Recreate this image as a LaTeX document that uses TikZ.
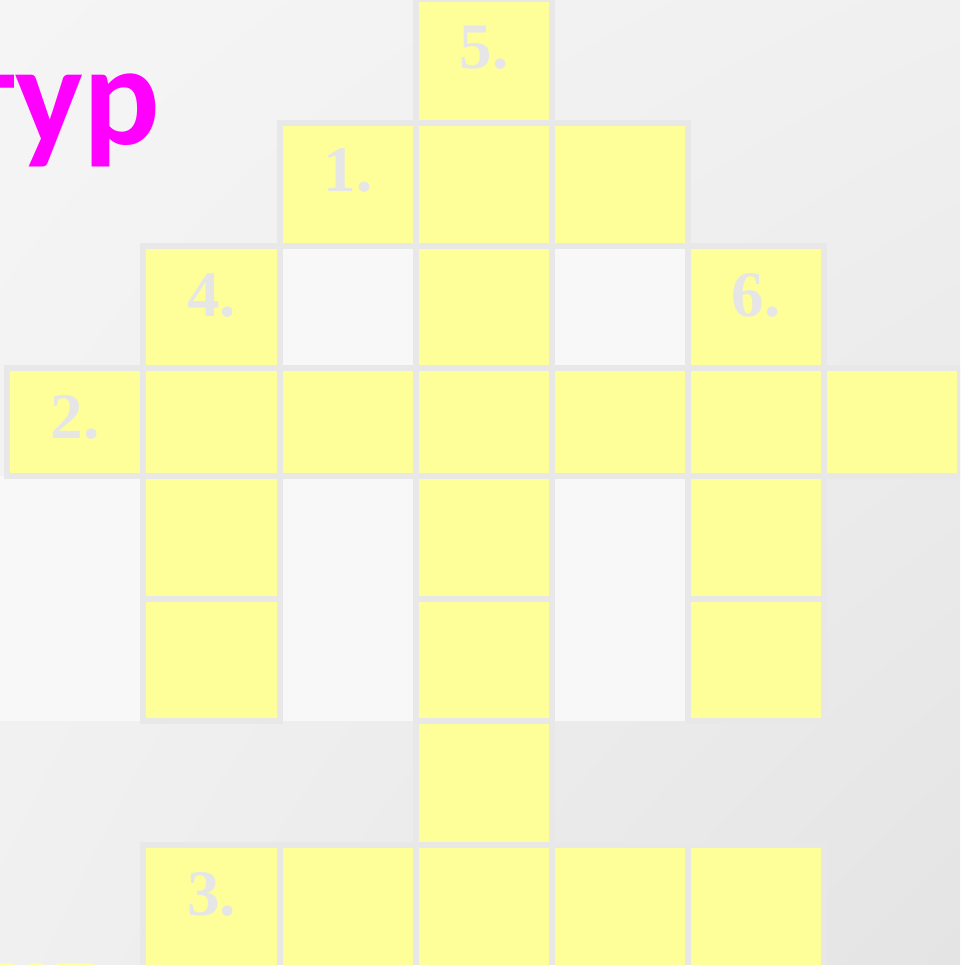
\documentclass[tikz,border=0pt]{standalone}
\usepackage{fontspec}
\usetikzlibrary{shadings}
\newfontfamily\titlefont{Carlito}
\newfontfamily\labelfont{Liberation Serif}
\definecolor{cellyellow}{HTML}{FFFF99}
\definecolor{gridgray}{HTML}{E8E8E8}
\definecolor{labelgray}{HTML}{E6E6E6}
\definecolor{lightcell}{HTML}{F8F8F8}
\definecolor{titlemag}{HTML}{FF00FF}
\definecolor{bgul}{HTML}{F5F5F5}
\definecolor{bgur}{HTML}{F0F0F0}
\definecolor{bgll}{HTML}{F0F0F0}
\definecolor{bglr}{HTML}{E4E4E4}
\newcommand\cwfill[2]{%
  \pgfmathsetmacro\xa{{7,143,280,416,552,688,824,960}[#1]}%
  \pgfmathsetmacro\xb{{7,143,280,416,552,688,824,960}[#1+1]}%
  \pgfmathsetmacro\ya{{-1,123,246,368,476,599,721,845,968}[#2]}%
  \pgfmathsetmacro\yb{{-1,123,246,368,476,599,721,845,968}[#2+1]}%
  \fill[cellyellow] (\xa,\ya) rectangle (\xb,\yb);}
\newcommand\cwline[2]{%
  \pgfmathsetmacro\xa{{7,143,280,416,552,688,824,960}[#1]}%
  \pgfmathsetmacro\xb{{7,143,280,416,552,688,824,960}[#1+1]}%
  \pgfmathsetmacro\ya{{-1,123,246,368,476,599,721,845,968}[#2]}%
  \pgfmathsetmacro\yb{{-1,123,246,368,476,599,721,845,968}[#2+1]}%
  \draw[gridline] (\xa,\ya) rectangle (\xb,\yb);}
\begin{document}
\begin{tikzpicture}[x=1pt,y=-1pt,
  gridline/.style={draw=gridgray,line width=6pt},
  numlabel/.style={inner sep=0pt,anchor=base,text=labelgray,font=\labelfont\bfseries\fontsize{65}{65}\selectfont},
  titletext/.style={inner sep=0pt,anchor=base east,text=titlemag,font=\titlefont\bfseries\fontsize{143}{143}\selectfont}]
\useasboundingbox (0,0) rectangle (960,965);
\clip (0,0) rectangle (960,965);
\shade[upper left=bgul,upper right=bgur,lower left=bgll,lower right=bglr] (0,0) rectangle (960,965);
% light empty cells
\fill[lightcell] (280,246) rectangle (416,368);
\fill[lightcell] (552,246) rectangle (688,368);
\fill[lightcell] (0,476) rectangle (143,721);
\fill[lightcell] (280,476) rectangle (416,721);
\fill[lightcell] (552,476) rectangle (688,721);
% yellow cells
\def\cwcells{3/0,2/1,3/1,4/1,1/2,3/2,5/2,0/3,1/3,2/3,3/3,4/3,5/3,6/3,1/4,3/4,5/4,1/5,3/5,5/5,3/6,1/7,2/7,3/7,4/7,5/7}
\foreach \c/\r in \cwcells {\cwfill{\c}{\r}}
\foreach \c/\r in \cwcells {\cwline{\c}{\r}}
% tiny yellow bits at bottom left
\fill[cellyellow] (0,963) rectangle (13,965);
\fill[cellyellow] (30,963) rectangle (43,965);
\fill[cellyellow] (57,963) rectangle (93,965);
% labels
\node[numlabel] (n5) at (484,69) {5.};
\node[numlabel] (n1) at (348,192) {1.};
\node[numlabel] (n4) at (211.5,316) {4.};
\node[numlabel] (n6) at (756,316) {6.};
\node[numlabel] (n2) at (75,438) {2.};
\node[numlabel] (n3) at (211.5,915) {3.};
% title
\node[titletext] (title) at (160,145) {тур};
\end{tikzpicture}
\end{document}
